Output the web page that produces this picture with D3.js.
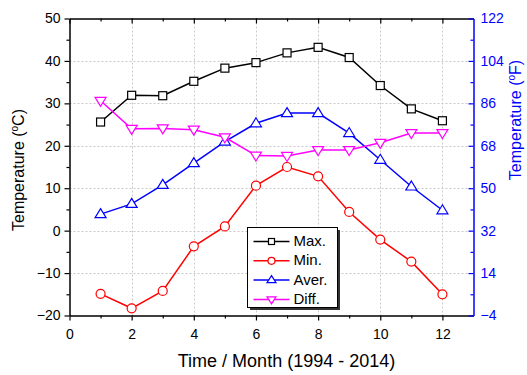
<!DOCTYPE html>
<html>
<head>
<meta charset="utf-8">
<script src="https://cdn.jsdelivr.net/npm/d3@7"></script>
<style>
	body { margin: 0; background: #fff; }
	svg { font-family: "Liberation Sans", Arial, sans-serif; }
</style>
</head>
<body>
<div id="chart"></div>
<script>
/* global d3 */

var months = [1, 2, 3, 4, 5, 6, 7, 8, 9, 10, 11, 12];
var maxTemp = [25.6, 31.9, 31.8, 35.2, 38.3, 39.6, 41.9, 43.2, 40.8, 34.2, 28.7, 25.9];
var minTemp = [-14.9, -18.3, -14.2, -3.7, 1.0, 10.6, 15.0, 12.8, 4.4, -2.1, -7.3, -15.0];
var averTemp = [3.9, 6.3, 10.8, 15.9, 21.0, 25.3, 27.7, 27.7, 23.0, 16.7, 10.4, 4.8];
var diffTemp = [30.6, 24.0, 24.1, 23.8, 22.0, 17.7, 17.6, 19.0, 19.0, 20.7, 23.0, 23.0];
var xTicks = [0, 2, 4, 6, 8, 10, 12];
var yTicksC = [-20, -10, 0, 10, 20, 30, 40, 50];
var yTicksF = [-4, 14, 32, 50, 68, 86, 104, 122];

(function() {

	'use strict';

	var series = [
		{ name: "Max.", values: maxTemp, color: "#000000", symbol: "square" },
		{ name: "Min.", values: minTemp, color: "#ff0000", symbol: "circle" },
		{ name: "Aver.", values: averTemp, color: "#0000ff", symbol: "up" },
		{ name: "Diff.", values: diffTemp, color: "#ff00ff", symbol: "down" }
	];

	var width = 527,
		height = 375,
		pLeft = 69.5,
		pRight = 473.5,
		pTop = 18.5,
		pBottom = 315.5,
		blue = "#0000ff";

	var svg = d3.select("#chart").append("svg")
		.attr("width", width)
		.attr("height", height);

	var x = d3.scaleLinear().domain([0, 13]).range([pLeft, pRight]),
		y = d3.scaleLinear().domain([-20, 50]).range([pBottom, pTop]),
		yF = d3.scaleLinear().domain([-4, 122]).range([pBottom, pTop]);

	// grid
	svg.append("g").selectAll("line")
		.data(xTicks.slice(1))
		.enter().append("line")
		.attr("x1", function(d) { return Math.round(x(d)) + 0.5; })
		.attr("x2", function(d) { return Math.round(x(d)) + 0.5; })
		.attr("y1", pTop)
		.attr("y2", pBottom)
		.attr("stroke", "#c8c8c8")
		.attr("stroke-dasharray", "2,2");

	svg.append("g").selectAll("line")
		.data(yTicksC.slice(1, -1))
		.enter().append("line")
		.attr("x1", pLeft)
		.attr("x2", pRight)
		.attr("y1", function(d) { return Math.round(y(d)) + 0.5; })
		.attr("y2", function(d) { return Math.round(y(d)) + 0.5; })
		.attr("stroke", "#c8c8c8")
		.attr("stroke-dasharray", "2,2");

	// axes
	function styleAxis(g, color) {
		g.select(".domain").attr("stroke", color).attr("stroke-width", 1.5);
		g.selectAll(".tick line").attr("stroke", color).attr("stroke-width", 1.2);
		g.selectAll(".tick text")
			.attr("fill", color)
			.style("font-size", "14px")
			.style("font-family", "'Liberation Sans', Arial, sans-serif");
	}

	var minorX = d3.range(1, 13, 2),
		minorC = d3.range(-15, 50, 10),
		minorF = d3.range(5, 122, 18);

	svg.append("g")
		.attr("transform", "translate(0," + pBottom + ")")
		.call(d3.axisBottom(x).tickValues(minorX).tickSize(3).tickFormat(""))
		.call(function(g) { g.select(".domain").remove(); })
		.call(styleAxis, "#000");
	svg.append("g")
		.attr("transform", "translate(0," + pBottom + ")")
		.call(d3.axisBottom(x).tickValues(xTicks).tickSize(5).tickSizeOuter(0).tickPadding(9))
		.call(styleAxis, "#000");

	svg.append("g")
		.attr("transform", "translate(0," + pTop + ")")
		.call(d3.axisTop(x).tickValues(minorX).tickSize(-3).tickFormat(""))
		.call(function(g) { g.select(".domain").remove(); })
		.call(styleAxis, "#000");
	svg.append("g")
		.attr("transform", "translate(0," + pTop + ")")
		.call(d3.axisTop(x).tickValues(xTicks).tickSize(-5).tickSizeOuter(0).tickFormat(""))
		.call(styleAxis, "#000");

	svg.append("g")
		.attr("transform", "translate(" + pLeft + ",0)")
		.call(d3.axisLeft(y).tickValues(minorC).tickSize(3).tickFormat(""))
		.call(function(g) { g.select(".domain").remove(); })
		.call(styleAxis, "#000");
	svg.append("g")
		.attr("transform", "translate(" + pLeft + ",0)")
		.call(d3.axisLeft(y).tickValues(yTicksC).tickSize(5).tickSizeOuter(0).tickPadding(4))
		.call(styleAxis, "#000");

	svg.append("g")
		.attr("transform", "translate(" + pRight + ",0)")
		.call(d3.axisRight(yF).tickValues(minorF).tickSize(-3).tickFormat(""))
		.call(function(g) { g.select(".domain").remove(); })
		.call(styleAxis, blue);
	svg.append("g")
		.attr("transform", "translate(" + pRight + ",0)")
		.call(d3.axisRight(yF).tickValues(yTicksF).tickSize(-5).tickSizeOuter(0).tickPadding(7))
		.call(styleAxis, blue);

	// axis titles
	svg.append("text")
		.attr("x", 286.5)
		.attr("y", 367)
		.attr("text-anchor", "middle")
		.style("font-size", "18px")
		.text("Time / Month (1994 - 2014)");

	function degTitle(tx, ty, unit, color) {
		var t = svg.append("text")
			.attr("transform", "translate(" + tx + "," + ty + ") rotate(-90)")
			.attr("text-anchor", "middle")
			.attr("fill", color)
			.style("font-size", "16px");
		t.append("tspan").text("Temperature (");
		t.append("tspan").attr("dy", -6).style("font-size", "10px").text("o");
		t.append("tspan").attr("dy", 6).text(unit + ")");
	}
	degTitle(24, 170, "C", "#000");
	degTitle(521, 120, "F", blue);

	// symbols
	function drawSymbol(g, symbol, color, size) {
		var s = size / 2;
		if (symbol === "square") {
			g.append("rect").attr("x", -s + 0.5).attr("y", -s + 0.5)
				.attr("width", size - 1).attr("height", size - 1);
		} else if (symbol === "circle") {
			g.append("circle").attr("r", s);
		} else if (symbol === "up") {
			g.append("path").attr("d", "M0," + (-s - 1) + "L" + (s + 1) + "," + (s - 1) + "L" + (-s - 1) + "," + (s - 1) + "Z");
		} else {
			g.append("path").attr("d", "M0," + (s + 1) + "L" + (s + 1) + "," + (-s + 1) + "L" + (-s - 1) + "," + (-s + 1) + "Z");
		}
		g.selectAll("*").attr("fill", "#fff").attr("stroke", color).attr("stroke-width", 1.2);
	}

	var line = d3.line()
		.x(function(d) { return x(d.month); })
		.y(function(d) { return y(d.value); });

	series.forEach(function(s) {
		var pts = months.map(function(m, i) { return { month: m, value: s.values[i] }; });
		svg.append("path")
			.datum(pts)
			.attr("fill", "none")
			.attr("stroke", s.color)
			.attr("stroke-width", 1.5)
			.attr("d", line);
		svg.append("g").selectAll("g")
			.data(pts)
			.enter().append("g")
			.attr("transform", function(d) { return "translate(" + x(d.month) + "," + y(d.value) + ")"; })
			.each(function() { drawSymbol(d3.select(this), s.symbol, s.color, 9); });
	});

	// legend
	var lg = svg.append("g").attr("transform", "translate(247.5,227.5)");
	lg.append("rect").attr("x", 2.5).attr("y", 2.5).attr("width", 90).attr("height", 80).attr("fill", "#333");
	lg.append("rect").attr("width", 90).attr("height", 80).attr("fill", "#fff").attr("stroke", "#000").attr("stroke-width", 1);

	var item = lg.selectAll(".item")
		.data(series)
		.enter().append("g")
		.attr("class", "item")
		.attr("transform", function(d, i) { return "translate(0," + (14 + i * 19.3) + ")"; });
	item.append("line")
		.attr("x1", 6).attr("x2", 42)
		.attr("stroke", function(d) { return d.color; })
		.attr("stroke-width", 1.5);
	item.append("g")
		.attr("transform", "translate(24,0)")
		.each(function(d) { drawSymbol(d3.select(this), d.symbol, d.color, 7); });
	item.append("text")
		.attr("x", 46)
		.attr("y", 4.5)
		.style("font-size", "15px")
		.text(function(d) { return d.name; });

})();
</script>
</body>
</html>
